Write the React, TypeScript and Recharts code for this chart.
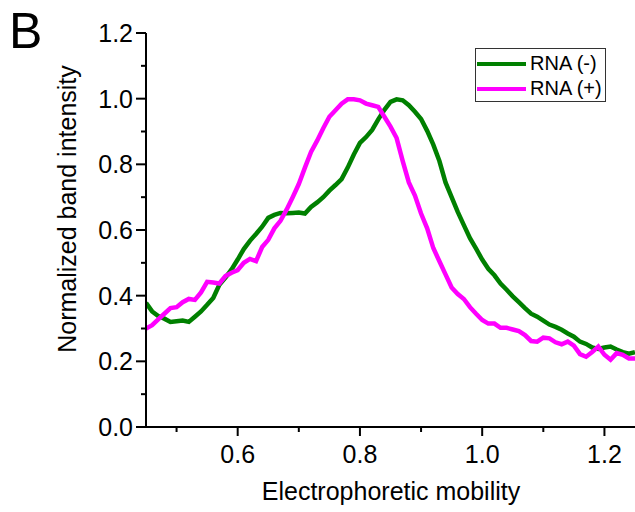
import React from "react";
import { LineChart, Line, XAxis, YAxis } from "recharts";

const mobility = [
  0.45, 0.46, 0.47, 0.48, 0.49, 0.5, 0.51, 0.52, 0.53, 0.54, 0.55, 0.56, 0.57, 0.58, 0.59, 0.6,
  0.61, 0.62, 0.63, 0.64, 0.65, 0.66, 0.67, 0.68, 0.69, 0.7, 0.71, 0.72, 0.73, 0.74, 0.75, 0.76,
  0.77, 0.78, 0.79, 0.8, 0.81, 0.82, 0.83, 0.84, 0.85, 0.86, 0.87, 0.88, 0.89, 0.9, 0.91, 0.92,
  0.93, 0.94, 0.95, 0.96, 0.97, 0.98, 0.99, 1.0, 1.01, 1.02, 1.03, 1.04, 1.05, 1.06, 1.07, 1.08,
  1.09, 1.1, 1.11, 1.12, 1.13, 1.14, 1.15, 1.16, 1.17, 1.18, 1.19, 1.2, 1.21, 1.22, 1.23, 1.24, 1.25,
];

const rnaMinus = [
  0.378, 0.352, 0.338, 0.33, 0.32, 0.322, 0.324, 0.32, 0.336, 0.352, 0.372, 0.393, 0.433, 0.455, 0.48, 0.51,
  0.542, 0.567, 0.588, 0.61, 0.637, 0.646, 0.652, 0.651, 0.652, 0.653, 0.65, 0.67, 0.684, 0.7, 0.72, 0.737,
  0.755, 0.79, 0.83, 0.865, 0.883, 0.905, 0.937, 0.966, 0.99, 0.998, 0.995, 0.98, 0.96, 0.938, 0.902, 0.86,
  0.81, 0.745, 0.7, 0.655, 0.615, 0.575, 0.543, 0.51, 0.482, 0.462, 0.437, 0.418, 0.398, 0.38, 0.362, 0.345,
  0.336, 0.324, 0.312, 0.305, 0.296, 0.285, 0.275, 0.26, 0.253, 0.242, 0.238, 0.242, 0.245, 0.236, 0.228, 0.223, 0.228,
];

const rnaPlus = [
  0.3, 0.31, 0.328, 0.345, 0.362, 0.365, 0.38, 0.39, 0.387, 0.41, 0.442, 0.44, 0.437, 0.46, 0.47, 0.478,
  0.5, 0.512, 0.505, 0.548, 0.57, 0.605, 0.628, 0.662, 0.7, 0.74, 0.79, 0.838, 0.872, 0.91, 0.945, 0.965,
  0.985, 0.998, 0.998, 0.995, 0.985, 0.98, 0.975, 0.945, 0.915, 0.88, 0.81, 0.745, 0.705, 0.65, 0.605, 0.545,
  0.505, 0.465, 0.425, 0.405, 0.39, 0.365, 0.345, 0.326, 0.315, 0.315, 0.302, 0.302, 0.297, 0.292, 0.28, 0.262,
  0.26, 0.272, 0.27, 0.258, 0.252, 0.26, 0.248, 0.222, 0.214, 0.228, 0.245, 0.22, 0.205, 0.225, 0.22, 0.209, 0.209,
];

const xTicks = [0.5, 0.6, 0.7, 0.8, 0.9, 1.0, 1.1, 1.2];
const xMajor = [0.6, 0.8, 1.0, 1.2];
const yTicks = [0, 0.1, 0.2, 0.3, 0.4, 0.5, 0.6, 0.7, 0.8, 0.9, 1.0, 1.1, 1.2];
const yMajor = [0, 0.2, 0.4, 0.6, 0.8, 1.0, 1.2];

const seriesNames = ["RNA (-)", "RNA (+)"];
const seriesColors = ["#008000", "#ff00ff"];

const data = mobility.map((m, i) => ({ m, minus: rnaMinus[i], plus: rnaPlus[i] }));

const FONT = "'Liberation Sans', Arial, sans-serif";

const isMajor = (v: number, list: number[]) => list.some((t) => Math.abs(t - v) < 1e-6);

const XTick = (props: any) => {
  const { x, y, payload } = props;
  const major = isMajor(payload.value, xMajor);
  return (
    <g>
      <line x1={x} x2={x} y1={y} y2={y + (major ? 9 : 5)} stroke="#000" strokeWidth={2} />
      {major && (
        <text x={x} y={y + 36} textAnchor="middle" fontSize={25} fontFamily={FONT} fill="#000">
          {payload.value.toFixed(1)}
        </text>
      )}
    </g>
  );
};

const YTick = (props: any) => {
  const { x, y, payload } = props;
  const major = isMajor(payload.value, yMajor);
  return (
    <g>
      <line x1={x - (major ? 10 : 5)} x2={x} y1={y} y2={y} stroke="#000" strokeWidth={2} />
      {major && (
        <text x={x - 13} y={y} dy="0.36em" textAnchor="end" fontSize={25} fontFamily={FONT} fill="#000">
          {payload.value.toFixed(1)}
        </text>
      )}
    </g>
  );
};

const LegendBox = () => (
  <div
    style={{
      position: "absolute",
      left: 475,
      top: 48,
      border: "1px solid #333",
      width: 129,
      height: 52,
      background: "#fff",
      fontFamily: FONT,
      fontSize: 20,
      boxSizing: "content-box",
    }}
  >
    {seriesNames.map((n, i) => (
      <div key={n} style={{ display: "flex", alignItems: "center", height: 25, marginTop: i === 0 ? 2 : 0 }}>
        <div style={{ width: 49, height: 4, background: seriesColors[i], marginLeft: 1 }} />
        <span style={{ marginLeft: 4, color: "#000", lineHeight: "25px" }}>{n}</span>
      </div>
    ))}
  </div>
);

export default function App() {
  return (
    <div style={{ position: "absolute", left: 0, top: 0, width: 635, height: 512, background: "#fff" }}>
      <svg width={60} height={60} style={{ position: "absolute", left: 0, top: 0 }}>
        <text x={9} y={48} fontSize={50} fontFamily={FONT} fill="#000">
          B
        </text>
      </svg>
      <LineChart
        width={635}
        height={512}
        data={data}
        margin={{ top: 33, right: 0, bottom: 0, left: 0 }}
        style={{ position: "absolute", left: 0, top: 0 }}
      >
        <XAxis
          dataKey="m"
          type="number"
          domain={[0.45, 1.25]}
          ticks={xTicks}
          interval={0}
          height={85}
          tickSize={0}
          tickMargin={0}
          tickLine={false}
          axisLine={{ stroke: "#000", strokeWidth: 2 }}
          tick={<XTick />}
          allowDataOverflow
          label={(p: any) => (
            <text x={391} y={500} textAnchor="middle" fontSize={25} fontFamily={FONT} fill="#000">
              Electrophoretic mobility
            </text>
          )}
        />
        <YAxis
          type="number"
          domain={[0, 1.2]}
          ticks={yTicks}
          interval={0}
          width={146}
          tickSize={0}
          tickMargin={0}
          tickLine={false}
          axisLine={{ stroke: "#000", strokeWidth: 2 }}
          tick={<YTick />}
          allowDataOverflow
          label={(p: any) => (
            <text
              x={67}
              y={209}
              transform="rotate(-90, 67, 209)"
              textAnchor="middle"
              dy="0.36em"
              fontSize={25}
              fontFamily={FONT}
              fill="#000"
            >
              Normalized band intensity
            </text>
          )}
        />
        <Line
          dataKey="minus"
          name={seriesNames[0]}
          stroke={seriesColors[0]}
          strokeWidth={4.5}
          dot={false}
          type="linear"
          isAnimationActive={false}
        />
        <Line
          dataKey="plus"
          name={seriesNames[1]}
          stroke={seriesColors[1]}
          strokeWidth={4.5}
          dot={false}
          type="linear"
          isAnimationActive={false}
        />
      </LineChart>
      <LegendBox />
    </div>
  );
}
